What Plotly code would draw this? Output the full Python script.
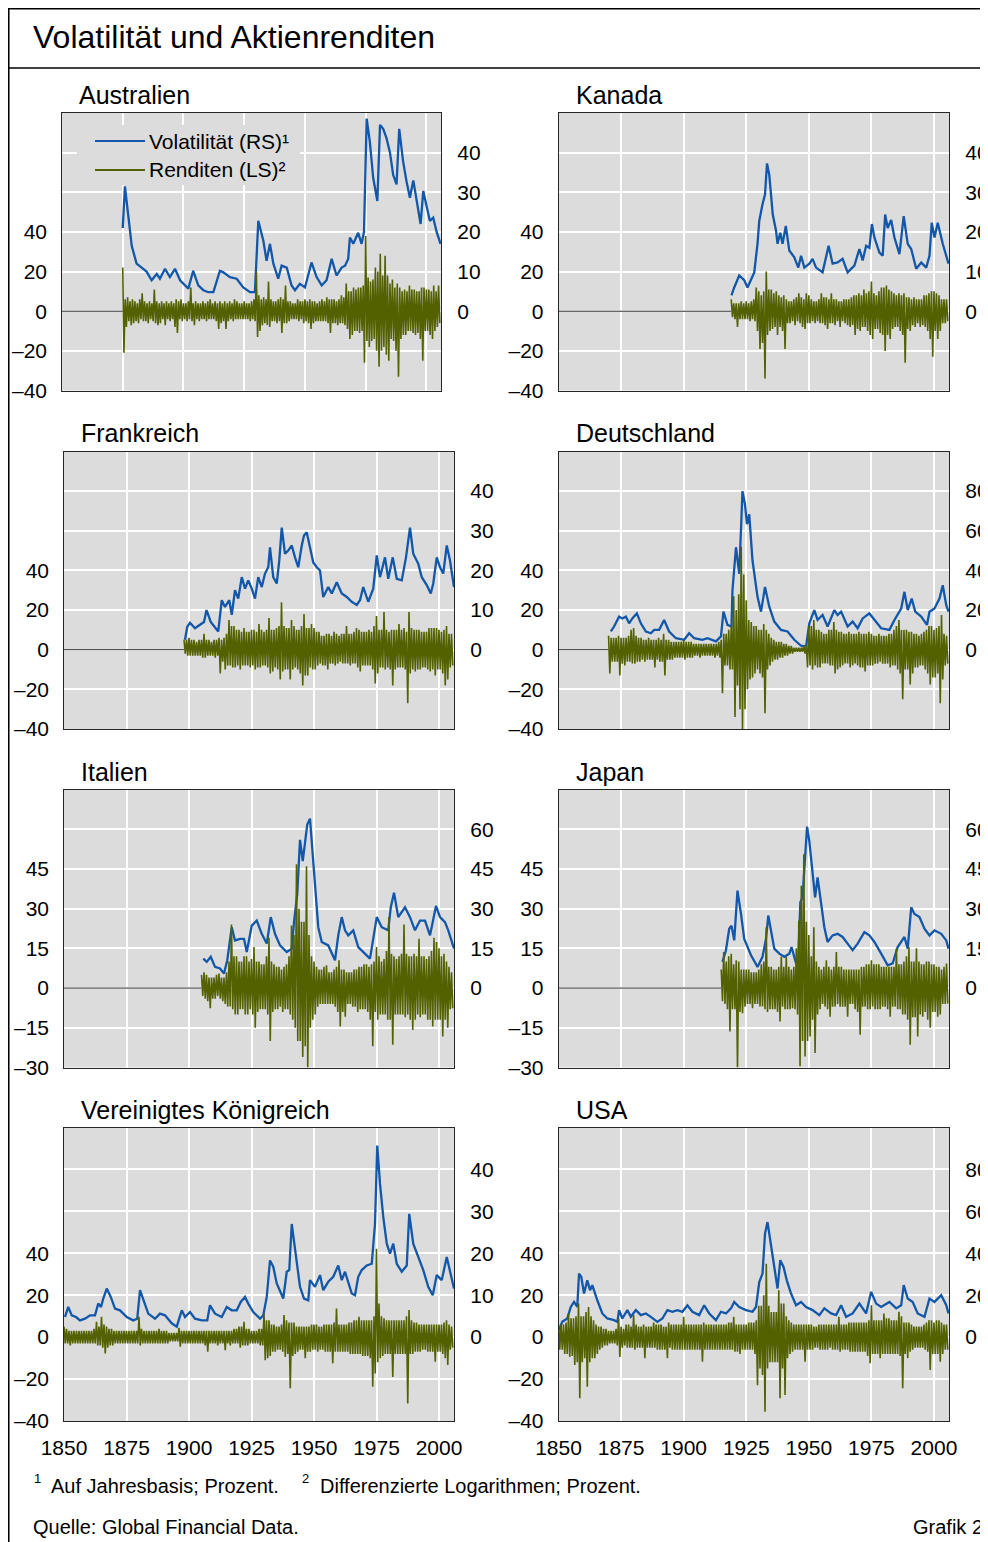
import plotly.graph_objects as go

# page body has an 8px default margin -> figure origin sits at page (8, 8)
W, H = 980, 1534
FONT = "Liberation Sans, Arial, Helvetica, sans-serif"
BLUE = "#1257a9"
GREEN = "#536100"
PLOT_BG = "#dcdcdc"
X_MIN, X_MAX = 1850, 2006
X_TICKS = [1850, 1875, 1900, 1925, 1950, 1975, 2000]

# ---------------- data: volatility (year, value) ----------------
AUS_VOL = [(1875.0, 21), (1875.9, 31.5), (1878.7, 16.5), (1880.7, 12), (1882.8, 11), (1884.8, 10), (1886.9, 7.8),
           (1889.0, 9.4), (1890.3, 8.2), (1892.4, 10.7), (1894.4, 8.6), (1896.5, 10.7), (1898.6, 7.8), (1900.6, 6.5),
           (1902.0, 5.7), (1904.0, 10.2), (1906.1, 6.5), (1908.2, 5.3), (1910.2, 4.8), (1912.3, 4.8), (1915.0, 10.2),
           (1916.4, 9.8), (1919.1, 8.6), (1921.9, 8.2), (1924.6, 6), (1927.4, 4.8), (1929.4, 4.8), (1930.8, 22.8),
           (1932.9, 17.7), (1934.2, 12.7), (1935.6, 17), (1937.0, 12), (1939.0, 8.2), (1940.4, 11.5), (1942.5, 11),
           (1944.5, 6.5), (1945.9, 5.3), (1947.9, 6.9), (1950.0, 6), (1952.7, 12.3), (1954.8, 8.6), (1956.9, 6.5),
           (1958.9, 7.8), (1961.0, 13.2), (1963.0, 9), (1965.1, 11), (1966.5, 11.5), (1967.8, 13.2), (1968.5, 18.6),
           (1969.9, 17), (1971.9, 19.8), (1973.3, 17), (1974.3, 20), (1975.4, 48.6), (1976.7, 42.8), (1978.1, 33.6),
           (1979.8, 27.8), (1980.9, 47), (1982.2, 46), (1983.6, 43.6), (1985.0, 40), (1986.3, 34.4), (1987.7, 32),
           (1988.8, 46), (1990.4, 37.8), (1991.8, 32.8), (1993.2, 28.6), (1994.6, 33), (1996.0, 27.8), (1997.6, 22),
           (1998.7, 30.3), (2000.1, 26), (2001.4, 22.8), (2002.8, 23.6), (2004.2, 20), (2005.8, 17)]

CAN_VOL = [(1919.1, 4), (1920.2, 6), (1922.2, 9), (1924.2, 7.8), (1925.5, 6), (1926.9, 8.2), (1928.2, 9.8),
           (1929.5, 17), (1930.2, 22.8), (1931.5, 27), (1932.5, 29.4), (1933.3, 37.3), (1934.2, 34.4), (1935.6, 24.4),
           (1936.9, 20.3), (1937.5, 17), (1938.6, 19.8), (1939.5, 17), (1940.8, 21.5), (1942.2, 15.3), (1944.2, 13.6),
           (1945.8, 11), (1946.9, 14), (1948.2, 11), (1950.2, 12), (1951.5, 13.2), (1952.9, 11), (1955.5, 9.8),
           (1957.9, 16.5), (1959.5, 12), (1961.5, 12.3), (1963.5, 13.2), (1965.5, 9.8), (1968.2, 11.5), (1970.2, 15.7),
           (1971.5, 12.8), (1972.9, 16.5), (1974.2, 16), (1975.2, 22), (1976.2, 18.6), (1978.2, 14.8), (1979.5, 14),
           (1980.5, 24.4), (1981.5, 21), (1982.9, 23), (1984.2, 18.6), (1986.2, 14.4), (1987.9, 24), (1989.5, 17),
           (1990.9, 15.7), (1992.9, 10.7), (1994.9, 12.3), (1996.9, 11), (1998.2, 14), (1999.1, 22.3), (2000.2, 18.6),
           (2001.5, 22.3), (2003.5, 17), (2005.8, 12)]

FRA_VOL = [(1898.4, 2.5), (1899.3, 5.8), (1900.4, 6.8), (1902.4, 5.4), (1904.4, 6.3), (1906.0, 7), (1907.0, 10),
           (1908.7, 7), (1911.7, 4.6), (1913.1, 12.5), (1914.4, 10.8), (1916.1, 12.5), (1917.1, 8.8), (1918.4, 15),
           (1919.7, 12.9), (1921.1, 18.3), (1922.4, 15.4), (1923.7, 17.5), (1925.1, 15.4), (1926.4, 12.9),
           (1927.7, 18.3), (1929.1, 15.8), (1930.4, 19.2), (1931.7, 20.8), (1932.4, 25.8), (1933.7, 18.3),
           (1935.1, 16.7), (1936.1, 22.5), (1937.1, 30.8), (1938.4, 24.2), (1939.7, 25), (1941.1, 26.3), (1942.4, 23.3),
           (1943.7, 20.8), (1945.1, 26.3), (1946.0, 28.8), (1947.1, 29.6), (1948.4, 25.8), (1949.7, 22), (1951.1, 20.8),
           (1952.4, 20), (1953.7, 13.3), (1955.7, 15.8), (1957.1, 14.2), (1959.1, 17), (1961.1, 14.2), (1963.1, 13.3),
           (1965.1, 12.1), (1967.1, 11.3), (1968.4, 12.5), (1969.7, 15.8), (1971.7, 12.1), (1973.7, 15.4),
           (1975.1, 23.8), (1976.4, 18.3), (1978.4, 23.3), (1979.7, 17.9), (1981.5, 23.3), (1983.1, 17.9),
           (1985.1, 17.5), (1986.8, 23.3), (1988.4, 30.8), (1989.7, 24.2), (1991.7, 21.7), (1993.1, 18.3),
           (1995.1, 16.3), (1996.7, 14.2), (1997.7, 16.7), (1999.1, 23.3), (2000.4, 20.8), (2001.7, 19.2),
           (2003.1, 26.3), (2004.4, 22.5), (2006.0, 15.8)]

DEU_VOL = [(1870.9, 9.2), (1872.2, 11.7), (1874.2, 16.7), (1875.5, 15.8), (1876.9, 16.7), (1878.2, 13.3),
           (1879.5, 15.8), (1881.3, 18.3), (1882.9, 13.3), (1884.9, 9.2), (1886.9, 8.3), (1888.2, 10), (1890.2, 10),
           (1892.2, 15), (1894.2, 9.2), (1896.9, 5.8), (1900.2, 5), (1902.2, 8.3), (1904.2, 5.8), (1907.5, 5),
           (1909.5, 5.8), (1912.9, 4.2), (1914.9, 6.7), (1915.9, 19.2), (1917.5, 12.5), (1919.1, 11.7), (1919.5, 30),
           (1920.9, 51.7), (1922.2, 38.3), (1923.5, 80), (1924.5, 73.3), (1925.3, 63.3), (1926.2, 68.3), (1927.5, 45),
           (1929.5, 26.7), (1930.9, 19.2), (1932.5, 31.7), (1934.2, 21.7), (1936.2, 14.2), (1938.9, 10), (1941.5, 9.2),
           (1944.2, 5), (1946.9, 2), (1948.9, 1.7), (1950.2, 13.3), (1952.2, 20), (1953.5, 15), (1955.5, 17.5),
           (1957.5, 11.7), (1960.2, 20), (1961.5, 17.5), (1962.9, 19.2), (1965.5, 11.7), (1967.5, 14.2),
           (1969.5, 10.8), (1971.5, 15.8), (1974.2, 18.3), (1976.2, 15), (1978.9, 10.8), (1982.2, 10), (1984.2, 15),
           (1986.9, 20.8), (1988.2, 29.2), (1989.5, 20), (1991.1, 25.8), (1992.5, 19.2), (1994.9, 16.7),
           (1997.2, 12.5), (1998.2, 19.2), (2000.2, 20.8), (2002.2, 25.8), (2003.5, 32.5), (2004.9, 22.5),
           (2005.8, 19.2)]

ITA_VOL = [(1905.7, 11.1), (1907.1, 9.9), (1908.7, 11.8), (1910.4, 8), (1912.4, 7.4), (1914.0, 5.5), (1915.3, 10.5),
           (1917.1, 23), (1918.4, 18), (1920.4, 18.6), (1922.0, 18.6), (1923.1, 13.6), (1925.1, 23.6), (1927.1, 25.5),
           (1929.1, 20.5), (1931.1, 16.8), (1932.7, 26.8), (1934.4, 20.5), (1936.4, 16.1), (1939.1, 13.6),
           (1941.1, 14.9), (1942.0, 24.9), (1943.3, 35.5), (1944.4, 56), (1945.5, 48), (1946.4, 54), (1947.3, 61.8),
           (1948.4, 64), (1949.1, 55.5), (1950.4, 38), (1951.7, 23), (1953.1, 17.4), (1955.7, 16.1), (1958.4, 10.5),
           (1959.7, 19.9), (1961.1, 26.8), (1962.4, 21.8), (1963.7, 19.9), (1965.7, 21.8), (1967.7, 15.5),
           (1969.7, 13.6), (1972.4, 11.1), (1975.1, 26.8), (1977.1, 23), (1979.7, 21.8), (1980.7, 30.5), (1982.0, 36),
           (1983.7, 26.8), (1986.4, 30.5), (1988.4, 26.8), (1990.4, 21.8), (1992.4, 25.5), (1994.4, 25.5),
           (1996.4, 19.9), (1998.8, 31), (2000.4, 26.8), (2002.4, 24.9), (2003.7, 21.8), (2006.0, 14.9)]

JPN_VOL = [(1915.5, 9.9), (1916.9, 14.3), (1918.2, 22.4), (1919.1, 23.6), (1920.2, 18), (1921.5, 36.8), (1922.9, 28),
           (1924.2, 18.6), (1926.9, 12.4), (1929.5, 8), (1931.5, 11.8), (1932.9, 18.6), (1933.8, 27.4), (1934.9, 21.8),
           (1936.2, 14.9), (1938.2, 13), (1940.2, 11.8), (1942.2, 13), (1943.1, 15.5), (1944.9, 9.3), (1945.8, 10.5),
           (1946.6, 32.4), (1947.5, 34.3), (1948.5, 49.3), (1949.3, 61), (1950.2, 55.5), (1951.5, 44.3),
           (1952.5, 34.3), (1953.5, 41.8), (1954.9, 33), (1956.2, 23), (1957.5, 17.4), (1959.5, 19.9), (1961.5, 20.5),
           (1963.5, 19.3), (1965.5, 16.8), (1967.5, 14.3), (1969.5, 16.8), (1972.2, 21.1), (1974.2, 19.9),
           (1976.2, 17.4), (1978.9, 13), (1981.5, 8.6), (1983.5, 9.3), (1985.5, 15.5), (1988.2, 19.3), (1989.5, 14.9),
           (1990.9, 30.5), (1992.2, 28), (1994.2, 26.8), (1996.2, 22.4), (1998.2, 19.9), (2000.2, 21.8),
           (2002.9, 20.5), (2004.9, 18), (2005.8, 14.9)]

GBR_VOL = [(1850.4, 4.8), (1851.7, 7.2), (1853.1, 5.2), (1854.8, 4.8), (1856.4, 4), (1858.4, 4.4), (1860.4, 5.2),
           (1862.4, 5.2), (1863.7, 8), (1864.8, 7.2), (1865.7, 9.2), (1867.1, 11.6), (1868.7, 9.6), (1870.4, 6.8),
           (1872.4, 6.4), (1875.1, 4.8), (1877.7, 4), (1879.3, 4.4), (1880.4, 11.2), (1881.7, 8.8), (1883.7, 5.6),
           (1886.4, 4.4), (1888.4, 5.6), (1890.4, 5.2), (1893.1, 3.3), (1895.1, 2.5), (1897.1, 6.4), (1898.4, 4.8),
           (1900.4, 6), (1902.4, 4.4), (1905.1, 4), (1907.3, 4), (1908.4, 7.6), (1910.4, 5.6), (1913.1, 4.8),
           (1915.1, 7.2), (1917.1, 6.4), (1919.1, 6.4), (1920.7, 8.4), (1922.4, 9.6), (1923.7, 8), (1925.7, 6),
           (1928.4, 4.4), (1929.7, 5.2), (1931.1, 9.6), (1932.4, 18.3), (1933.7, 16.8), (1935.1, 12.8), (1936.4, 10.8),
           (1937.7, 9.2), (1939.1, 15.6), (1940.1, 16), (1941.1, 27), (1942.4, 21.5), (1944.4, 12), (1946.0, 9.2),
           (1947.7, 8.8), (1948.4, 13.6), (1950.4, 12), (1952.4, 14.8), (1953.7, 11.2), (1955.7, 13.2), (1957.7, 14.4),
           (1959.7, 17.1), (1961.1, 13.6), (1962.4, 15.6), (1963.7, 13.2), (1965.1, 10.4), (1966.4, 10), (1967.7, 14.4),
           (1969.1, 16), (1971.1, 17.1), (1973.1, 17.5), (1974.4, 27), (1975.3, 45.7), (1976.4, 36.6), (1977.7, 28.7),
           (1979.1, 22.3), (1980.4, 19.9), (1981.7, 22.3), (1983.1, 17.5), (1985.1, 15.6), (1987.1, 17.1),
           (1988.1, 29.4), (1989.7, 22.3), (1991.7, 19.1), (1993.7, 16), (1995.7, 12), (1997.5, 10), (1999.1, 14.8),
           (2001.1, 13.6), (2003.1, 19.1), (2004.4, 16), (2006.0, 11.6)]

USA_VOL = [(1850.2, 3.3), (1851.5, 7.3), (1853.5, 8.9), (1854.9, 14.4), (1856.2, 16.8), (1857.5, 14.4), (1858.2, 30.3),
           (1859.1, 28.7), (1860.2, 20.8), (1861.5, 27.1), (1862.6, 22.4), (1863.5, 24.8), (1865.5, 17.6),
           (1867.5, 11.3), (1869.5, 8.9), (1872.2, 8.1), (1873.5, 7.3), (1874.2, 12.9), (1875.5, 8.9), (1877.5, 12.9),
           (1878.9, 9.7), (1880.9, 12.9), (1882.9, 10.5), (1884.9, 11.3), (1886.9, 9.7), (1889.5, 7.3), (1891.5, 8.9),
           (1893.5, 12.9), (1895.5, 12.1), (1897.5, 12.9), (1899.5, 12.1), (1901.5, 15.2), (1903.5, 12.1),
           (1906.2, 10.5), (1908.2, 15.2), (1910.2, 11.3), (1912.9, 8.1), (1914.9, 12.1), (1916.9, 11.3),
           (1918.9, 13.7), (1920.2, 16.8), (1922.2, 14.4), (1924.9, 12.9), (1927.5, 12.1), (1928.9, 14.4),
           (1930.2, 26.3), (1931.5, 30.3), (1932.5, 49.4), (1933.5, 54.9), (1934.6, 46.2), (1936.2, 31.9),
           (1937.5, 23.2), (1938.6, 36.7), (1939.9, 33.5), (1941.2, 27.1), (1942.9, 20.8), (1944.9, 15.2),
           (1946.9, 16.8), (1948.9, 14.4), (1951.5, 12.9), (1954.2, 10.5), (1956.2, 13.7), (1958.9, 11.3),
           (1960.9, 10.5), (1962.9, 15.2), (1964.9, 9.7), (1967.5, 11.3), (1970.2, 16), (1972.9, 11.3), (1974.9, 21.6),
           (1976.9, 16), (1978.9, 14.4), (1982.2, 16.8), (1984.9, 13.7), (1986.9, 15.2), (1987.9, 24.8), (1989.5, 18.4),
           (1991.5, 16.8), (1993.5, 11.3), (1996.2, 9.7), (1998.2, 18.4), (2000.2, 16.8), (2002.9, 20), (2004.9, 15.2),
           (2005.8, 11.3)]

# ---------------- data: yearly return range (high, low), consecutive years from *_START ----------------
AUS_START = 1875
AUS_RET = [(22, -21), (6, -8), (7, -5), (5, -7), (6, -6),
           (5, -5), (4, -6), (6, -4), (9, -5), (5, -5), (4, -6), (5, -4), (4, -5), (11, -6), (5, -7),
           (4, -6), (5, -4), (4, -7), (5, -4), (4, -5), (5, -4), (4, -8), (6, -11), (5, -4), (6, -5),
           (4, -4), (4, -5), (5, -4), (12, -5), (4, -7), (5, -4), (4, -5), (4, -4), (5, -4), (4, -5),
           (5, -4), (6, -4), (4, -4), (5, -5), (4, -9), (5, -6), (4, -5), (5, -9), (4, -5), (5, -4),
           (4, -5), (6, -4), (5, -4), (4, -4), (4, -4), (5, -4), (4, -4), (4, -5), (5, -4), (6, -5),
           (20, -13), (8, -10), (6, -7), (7, -6), (6, -7), (15, -8), (6, -5), (5, -5), (5, -6), (6, -5),
           (7, -11), (6, -6), (13, -6), (5, -5), (5, -4), (4, -4), (4, -4), (6, -5), (5, -4), (5, -6),
           (6, -5), (5, -6), (6, -9), (5, -6), (5, -5), (4, -5), (5, -5), (6, -5), (5, -5), (7, -6),
           (6, -11), (6, -6), (6, -6), (5, -7), (6, -6), (8, -6), (7, -7), (14, -9), (10, -14), (10, -12),
           (12, -10), (11, -10), (12, -11), (12, -10), (13, -26), (38, -15), (17, -18), (15, -15), (16, -14), (22, -20),
           (20, -28), (29, -20), (18, -18), (28, -22), (18, -25), (14, -14), (16, -15), (12, -20), (14, -33), (12, -14),
           (10, -12), (11, -12), (10, -10), (13, -10), (11, -11), (11, -12), (10, -11), (10, -14), (12, -25), (12, -10),
           (11, -10), (11, -12), (10, -14), (13, -10), (10, -8), (13, -6)]

CAN_START = 1919
CAN_RET = [(6, -3),
           (4, -4), (4, -8), (4, -4), (5, -4), (4, -4), (5, -4), (4, -5), (5, -4), (6, -5), (12, -10),
           (10, -19), (8, -16), (10, -34), (20, -12), (11, -10), (11, -9), (9, -8), (10, -12), (8, -8), (7, -10),
           (8, -19), (6, -6), (5, -6), (5, -5), (6, -7), (7, -5), (9, -6), (7, -8), (6, -9), (9, -6),
           (8, -6), (6, -5), (5, -6), (5, -5), (6, -6), (9, -6), (7, -7), (7, -9), (6, -6), (9, -6),
           (6, -7), (6, -5), (5, -8), (5, -5), (6, -6), (6, -7), (6, -8), (7, -7), (8, -12), (8, -9),
           (9, -10), (8, -8), (11, -8), (9, -10), (10, -12), (15, -14), (9, -9), (8, -9), (10, -11), (12, -12),
           (12, -20), (13, -12), (11, -14), (10, -9), (9, -8), (8, -8), (9, -10), (8, -12), (9, -26), (7, -9),
           (7, -10), (6, -7), (7, -8), (6, -6), (6, -8), (6, -7), (8, -8), (8, -10), (9, -14), (10, -23),
           (10, -10), (9, -14), (8, -10), (6, -6), (6, -6), (6, -5)]

FRA_START = 1898
FRA_RET = [(5, -2), (5, -3),
           (6, -3), (5, -3), (5, -3), (4, -3), (5, -3), (5, -4), (8, -4), (5, -3), (5, -3), (4, -3),
           (5, -4), (5, -3), (6, -12), (5, -6), (6, -10), (8, -8), (15, -8), (12, -9), (12, -9), (10, -8),
           (10, -10), (9, -8), (11, -8), (9, -8), (9, -9), (10, -8), (10, -10), (9, -9), (13, -9), (10, -8),
           (9, -8), (10, -9), (16, -12), (10, -11), (10, -9), (11, -10), (12, -15), (24, -11), (12, -10), (11, -10),
           (11, -15), (15, -10), (12, -9), (10, -10), (10, -12), (12, -18), (18, -13), (11, -13), (11, -9), (13, -10),
           (11, -10), (9, -8), (9, -7), (7, -8), (7, -8), (8, -10), (8, -7), (7, -7), (9, -8), (8, -7),
           (7, -6), (8, -7), (8, -7), (12, -7), (8, -8), (8, -7), (9, -7), (11, -9), (10, -11), (9, -8),
           (9, -8), (9, -8), (10, -8), (9, -10), (12, -17), (17, -12), (10, -9), (10, -9), (19, -10), (10, -9),
           (9, -10), (10, -18), (10, -10), (10, -9), (13, -9), (10, -9), (11, -10), (9, -27), (19, -12), (11, -10),
           (10, -11), (10, -10), (10, -10), (9, -9), (9, -9), (9, -10), (11, -11), (11, -10), (11, -13), (11, -10),
           (10, -10), (9, -12), (10, -18), (12, -15), (8, -9), (8, -8)]

DEU_START = 1870
DEU_RET = [(7, -12), (6, -6), (6, -6), (6, -6), (7, -13), (6, -7), (6, -8), (6, -6), (7, -6), (10, -7),
           (11, -7), (7, -6), (6, -6), (6, -5), (5, -6), (5, -5), (6, -5), (5, -5), (5, -9), (5, -5),
           (6, -6), (5, -6), (8, -13), (5, -5), (5, -5), (4, -5), (4, -4), (4, -4), (4, -4), (4, -4),
           (5, -5), (4, -4), (4, -4), (4, -4), (3, -3), (3, -3), (3, -4), (3, -3), (3, -3), (3, -3),
           (3, -3), (3, -3), (3, -4), (3, -3), (4, -4), (5, -22), (8, -8), (8, -8), (10, -10), (12, -10),
           (27, -34), (20, -18), (28, -30), (52, -40), (38, -30), (25, -20), (15, -15), (14, -14), (12, -12), (12, -10),
           (10, -12), (10, -14), (13, -32), (10, -10), (8, -8), (6, -6), (5, -5), (4, -5), (4, -4), (4, -4),
           (3, -3), (3, -3), (2, -2), (2, -2), (1, -1), (1, -1), (1, -1), (1, -1), (2, -2), (2, -9),
           (12, -8), (12, -10), (15, -8), (10, -9), (10, -9), (9, -7), (8, -7), (8, -7), (10, -8), (10, -8),
           (14, -12), (10, -10), (9, -9), (9, -8), (8, -7), (8, -7), (9, -9), (8, -8), (8, -7), (8, -8),
           (9, -9), (8, -9), (8, -11), (8, -8), (9, -8), (8, -8), (7, -7), (7, -7), (8, -6), (7, -7),
           (7, -7), (7, -7), (8, -9), (8, -8), (10, -8), (12, -10), (15, -12), (10, -25), (10, -10), (10, -10),
           (9, -17.5), (9, -12), (8, -9), (8, -9), (7, -8), (8, -8), (9, -10), (10, -12), (12, -17.5), (12, -14),
           (10, -14), (11, -12), (12, -27), (17.5, -15), (8, -8), (7, -7)]

ITA_START = 1905
ITA_RET = [(5, -3), (6, -4), (5, -5), (4, -7.6), (4, -4),
           (4, -4), (5, -3), (5.5, -4), (4, -5), (4, -6), (6, -7), (10, -7), (24, -8), (12, -10), (12, -10),
           (10, -8), (10, -8), (12, -10), (12, -10), (10, -8), (11, -10), (15.5, -15), (10, -9), (10, -8), (9, -8),
           (9, -8), (12, -10), (19, -20), (10, -9), (9, -8), (8, -8), (8, -7), (7, -9), (8, -8), (9, -8),
           (12, -10), (23.6, -12), (20, -15), (46.8, -20), (30, -20), (25, -26), (25, -22), (46, -30), (20, -15), (12, -12),
           (10, -10), (8, -7), (7, -6), (7, -6), (8, -6), (8.6, -6), (6, -6), (6, -6), (7, -7), (8, -9),
           (10.5, -14.5), (7, -9), (7, -10.8), (6, -6), (6, -6), (6, -7), (7, -7), (7, -9), (8, -8), (8, -8),
           (9, -8), (9, -9), (8, -12), (9, -22), (10, -9), (15.5, -12), (12, -10), (10, -10), (11, -10), (14, -12),
           (26.8, -12), (13, -21.4), (12, -10), (11, -10), (12, -10), (13, -10), (24, -11), (13, -10), (12, -12), (12, -15.8),
           (13, -12), (12, -10), (18.6, -11), (12, -10), (12, -10), (11, -12), (12, -12), (14, -14.5), (19, -12), (17.4, -12),
           (15, -12), (12, -18.3), (13, -12), (10, -15), (8, -8), (6, -7.6)]

JPN_START = 1915
JPN_RET = [(7, -5), (13.6, -6), (10, -8), (12, -16.4), (13, -8),
           (9, -8), (10.5, -30), (10, -9), (7, -9.5), (7, -7), (7, -6), (7, -6), (6, -7.6), (6, -6), (6, -6),
           (7, -7), (9, -7), (10, -8), (23, -9), (8, -8), (8, -8), (7, -8), (7, -9), (8, -12.6), (11.8, -7),
           (8, -8), (11.8, -8), (8, -8), (7, -7.6), (8, -8), (15, -10), (25.5, -29.5), (38.6, -20), (50.5, -25.8), (25, -20),
           (20, -18.3), (12, -12), (23, -24.5), (10, -10), (8, -8), (7, -6), (8, -7), (10.5, -8), (8, -10.8), (7, -7),
           (8, -7), (13.6, -6), (8, -7), (8, -7), (7, -7), (7, -10.8), (7, -6), (7, -6), (7, -8), (7, -9),
           (7, -17.6), (8, -7), (8, -7), (9, -8), (9, -8), (10.5, -7), (9, -8), (9, -8), (9, -8), (8, -7),
           (8, -7), (8, -8), (8, -10.8), (8, -7), (8, -7), (15, -8), (9, -8), (9, -10), (10, -10), (12, -12),
           (15.5, -21.4), (10, -11), (10, -11), (15, -18.3), (10, -10), (9, -10.8), (9, -9), (10, -12), (10, -15), (9, -9),
           (9, -9), (8, -10.8), (8, -10), (7, -6), (8, -6), (9.3, -5.8)]

GBR_START = 1850
GBR_RET = [(5, -3), (4, -3), (3, -4), (3, -3), (3, -3), (3, -3), (3, -3), (3, -3), (3, -3), (3, -3),
           (3, -3), (3, -3), (4, -3), (7.3, -4), (5, -4), (9.7, -5), (6, -7.8), (5, -5), (4, -4), (4, -4),
           (3, -3), (3, -3), (3, -3), (3, -3), (3, -3), (3, -3), (3, -3), (3, -3), (3, -3), (3, -3),
           (9.7, -4), (4, -3), (3, -3), (3, -3), (3, -3), (3, -3), (3, -3), (3, -3), (4, -3), (3, -3),
           (3, -3), (3, -3), (2, -2), (2, -2), (2, -2), (2, -2), (4.5, -4.6), (3, -3), (3, -3), (3, -3),
           (3, -3), (3, -3), (3, -3), (3, -3), (3, -3), (3, -3), (3, -4), (3, -7), (3, -3), (3, -3),
           (3, -3), (3, -4), (3, -3), (3, -3), (3, -6.2), (3, -3), (3, -4), (3, -3), (4, -3), (4, -3),
           (5, -5), (5, -4), (7.3, -4), (4, -4), (4, -3), (3, -3), (3, -3), (3, -3), (4, -4), (4, -4),
           (11.3, -11), (8, -10), (8, -9), (6, -7), (6, -7), (5, -6), (5, -6), (6, -7), (10.5, -9.4), (8, -8),
           (7, -24.4), (7, -9), (7, -8), (5, -7), (5, -6), (5, -6), (5, -10), (5, -7), (5, -7), (6, -6),
           (6, -6), (6, -7), (5, -6), (5, -6), (6, -7), (6, -7), (6, -7), (6, -12.5), (7, -7), (13.7, -7),
           (6, -7), (6, -7), (6, -7), (6, -7), (7, -8), (7, -8), (8, -8), (8, -8), (9.7, -8), (8, -9),
           (8, -9), (8, -9), (8, -10), (8, -23.7), (10, -17.3), (42.2, -12), (16, -10), (10, -9), (9, -8), (8, -8),
           (8, -8), (8, -19), (8, -8), (8, -8), (8, -8), (8, -8), (8, -8), (10, -31.6), (12.9, -8), (8, -8),
           (7, -7), (7, -7), (6, -7), (6, -6), (6, -6), (6, -7), (6, -7), (6, -7), (6, -11.7), (6, -7),
           (6, -7), (6, -8), (7, -10), (8.1, -13.3), (6, -6), (5, -5)]

USA_START = 1850
USA_RET = [(6, -6), (6, -6), (6, -8), (7, -8), (11.3, -9.4), (9, -9), (9, -13.3), (10, -12), (16, -29.2), (10, -12),
           (10, -10), (12, -23.7), (14.4, -12), (10, -10), (8, -10), (6, -8), (5, -6), (5, -5), (4, -4), (4, -4),
           (3, -3), (3, -3), (3, -3), (4, -4), (8.9, -9.4), (5, -5), (4, -4), (6, -5), (6, -5), (5, -5),
           (10.5, -6), (6, -5), (5, -5), (5, -5), (6, -10), (5, -5), (5, -5), (5, -5), (7, -5), (6, -6),
           (6, -6), (6, -6), (5, -6), (5, -10), (7, -5), (6, -6), (6, -6), (6, -6), (6, -6), (6, -6),
           (9.7, -6), (6, -6), (6, -6), (6, -6), (6, -6), (6, -6), (6, -6), (6, -11.7), (7, -6), (6, -6),
           (6, -6), (6, -6), (6, -6), (6, -6), (6, -6), (6, -6), (6, -6), (6, -6), (7, -6), (7, -6),
           (9.7, -7), (6, -7), (6, -8), (6, -6), (6, -6), (6, -6), (7, -6), (7, -6), (7, -8), (8, -22.9),
           (15, -15), (15, -18), (20, -35.6), (35, -15), (15, -12), (12, -12), (12, -12), (12, -12), (22.4, -29.2), (16, -15),
           (16, -27.6), (10, -10), (8, -8), (7, -7), (6, -6), (6, -6), (6, -6), (6, -6), (6, -11.7), (6, -6),
           (6, -6), (6, -6), (5, -5), (5, -5), (6, -6), (6, -6), (6, -6), (6, -6), (6, -5), (6, -6),
           (6, -6), (6, -6), (9.7, -7), (6, -6), (6, -6), (6, -6), (7, -7), (7, -7), (7, -7), (7, -7),
           (7, -7), (7, -7), (7, -7), (7, -9), (8, -12.5), (15.2, -8), (8, -8), (8, -8), (8, -10), (8, -8),
           (11.3, -8), (9, -8), (9, -8), (8, -8), (8, -8), (8, -8), (12.1, -9), (10, -24.4), (7, -8), (7, -10),
           (7, -7), (6, -6), (5, -5), (5, -5), (5, -5), (5, -5), (6, -6), (7, -7), (8, -15.7), (8, -8),
           (7, -8), (8, -8), (8, -11.7), (7, -8), (6, -6), (6, -6)]

# ---------------- text ----------------
TITLE = "Volatilität und Aktienrenditen"
LEGEND_VOL = "Volatilität (RS)¹"
LEGEND_RET = "Renditen (LS)²"
FOOT_1 = "Auf Jahresbasis; Prozent."
FOOT_2 = "Differenzierte Logarithmen; Prozent."
SOURCE = "Quelle: Global Financial Data."
CHART_NO = "Grafik 2"

# axis scale sets: (min, max, step, first labelled, last labelled)
L_A = (-40, 100, 20, -40, 40)
R_A = (-20, 50, 10, 0, 40)
R_B = (-40, 100, 20, 0, 80)
L_C = (-30, 75, 15, -30, 45)
R_C = (-30, 75, 15, 0, 60)

# layout boxes in figure pixels (left, right, top, bottom)
PANELS = [
    dict(name="Australien", vol=AUS_VOL, start=AUS_START, ret=AUS_RET, box=(54, 433, 105, 382.5), left=L_A, right=R_A, bottom=False),
    dict(name="Kanada", vol=CAN_VOL, start=CAN_START, ret=CAN_RET, box=(550.5, 941, 105, 382.5), left=L_A, right=R_A, bottom=False),
    dict(name="Frankreich", vol=FRA_VOL, start=FRA_START, ret=FRA_RET, box=(56, 446, 443.5, 721), left=L_A, right=R_A, bottom=False),
    dict(name="Deutschland", vol=DEU_VOL, start=DEU_START, ret=DEU_RET, box=(550.5, 941, 443.5, 721), left=L_A, right=R_B, bottom=False),
    dict(name="Italien", vol=ITA_VOL, start=ITA_START, ret=ITA_RET, box=(56, 446, 781.5, 1059.5), left=L_C, right=R_C, bottom=False),
    dict(name="Japan", vol=JPN_VOL, start=JPN_START, ret=JPN_RET, box=(550.5, 941, 781.5, 1059.5), left=L_C, right=R_C, bottom=False),
    dict(name="Vereinigtes Königreich", vol=GBR_VOL, start=GBR_START, ret=GBR_RET, box=(56, 446, 1119.5, 1413), left=L_A, right=R_A, bottom=True),
    dict(name="USA", vol=USA_VOL, start=USA_START, ret=USA_RET, box=(550.5, 941, 1119.5, 1413), left=L_A, right=R_B, bottom=True),
]


def px_x(p):
    return p / W


def px_y(p):
    return 1 - p / H


def tick_set(spec):
    lo, hi, step, lab_lo, lab_hi = spec
    vals = list(range(lo, hi, step))
    text = [str(v).replace("-", "\u2013") if lab_lo <= v <= lab_hi else "" for v in vals]
    return vals, text


fig = go.Figure()
layout = dict(
    template="none",
    width=W, height=H, autosize=False,
    margin=dict(l=0, r=0, t=0, b=0, pad=0, autoexpand=False),
    paper_bgcolor="white",
    plot_bgcolor=PLOT_BG,
    showlegend=False,
    hovermode=False,
    font=dict(family=FONT, size=21, color="black"),
    annotations=[], shapes=[],
)
annotations = layout["annotations"]
shapes = layout["shapes"]

for k, p in enumerate(PANELS, start=1):
    xid = "x" if k == 1 else f"x{k}"
    yb = 2 * k - 1
    yo = 2 * k
    ybid = "y" if yb == 1 else f"y{yb}"
    yoid = f"y{yo}"
    x0, x1, t, b = p["box"]

    # volatility on base axis (right-hand scale)
    vx = [v[0] for v in p["vol"]]
    vy = [v[1] for v in p["vol"]]
    fig.add_trace(go.Scatter(x=vx, y=vy, mode="lines", line=dict(color=BLUE, width=2.3),
                             xaxis=xid, yaxis=ybid))
    # zero line before the return series begins
    fig.add_trace(go.Scatter(x=[X_MIN, p["start"]], y=[0, 0], mode="lines",
                             line=dict(color="#2a2a2a", width=1), xaxis=xid, yaxis=yoid))
    # returns: yearly high/low, drawn as a dense line (left-hand scale, on top)
    rx, ry = [], []
    for i, (hi, lo) in enumerate(p["ret"]):
        yr = p["start"] + i
        rx += [yr, yr + 0.5]
        ry += [hi, lo]
    fig.add_trace(go.Scatter(x=rx, y=ry, mode="lines", line=dict(color=GREEN, width=1.6),
                             xaxis=xid, yaxis=yoid))

    xkey = "xaxis" if k == 1 else f"xaxis{k}"
    layout[xkey] = dict(
        domain=[px_x(x0), px_x(x1)], range=[X_MIN, X_MAX], anchor=ybid, automargin=False,
        tickmode="array", tickvals=X_TICKS, ticktext=[str(v) for v in X_TICKS],
        showticklabels=p["bottom"], ticks="", ticklabelstandoff=8,
        showgrid=True, gridcolor="white", gridwidth=2,
        showline=True, linecolor="#262626", linewidth=1.2, mirror=True,
        zeroline=False, fixedrange=True, tickfont=dict(size=21),
    )
    rv, rt = tick_set(p["right"])
    ybkey = "yaxis" if yb == 1 else f"yaxis{yb}"
    layout[ybkey] = dict(
        domain=[px_y(b), px_y(t)], range=[p["right"][0], p["right"][1]], anchor=xid, side="right",
        automargin=False, tickmode="array", tickvals=rv, ticktext=rt, ticks="", ticklabelstandoff=11,
        showgrid=True, gridcolor="white", gridwidth=2,
        showline=True, linecolor="#262626", linewidth=1.2, mirror=True,
        zeroline=False, fixedrange=True, tickfont=dict(size=21),
    )
    lv, lt = tick_set(p["left"])
    layout[f"yaxis{yo}"] = dict(
        range=[p["left"][0], p["left"][1]], anchor=xid, overlaying=ybid, side="left", automargin=False,
        tickmode="array", tickvals=lv, ticktext=lt, ticks="", ticklabelstandoff=14,
        showgrid=False, showline=False, zeroline=False, fixedrange=True, tickfont=dict(size=21),
    )
    annotations.append(dict(text=p["name"], x=px_x(x0 + 15), y=px_y(t - 18), xref="paper", yref="paper",
                            xanchor="left", yanchor="middle", showarrow=False, font=dict(size=25)))

# frame
shapes += [
    dict(type="line", xref="paper", yref="paper", x0=0, x1=1, y0=px_y(0.75), y1=px_y(0.75),
         line=dict(color="black", width=1.6)),
    dict(type="line", xref="paper", yref="paper", x0=0, x1=1, y0=px_y(60), y1=px_y(60),
         line=dict(color="black", width=1.6)),
    dict(type="line", xref="paper", yref="paper", x0=px_x(0.75), x1=px_x(0.75), y0=1, y1=0,
         line=dict(color="black", width=1.6)),
]
# legend (inside first panel)
shapes += [
    dict(type="rect", xref="paper", yref="paper", x0=px_x(69), x1=px_x(292), y0=px_y(177), y1=px_y(117),
         fillcolor=PLOT_BG, line=dict(width=0), layer="above"),
    dict(type="line", xref="paper", yref="paper", x0=px_x(87), x1=px_x(137), y0=px_y(133), y1=px_y(133),
         line=dict(color=BLUE, width=2.2), layer="above"),
    dict(type="line", xref="paper", yref="paper", x0=px_x(87), x1=px_x(137), y0=px_y(162), y1=px_y(162),
         line=dict(color=GREEN, width=2.2), layer="above"),
]
annotations += [
    dict(text=LEGEND_VOL, x=px_x(139), y=px_y(133), xref="paper", yref="paper", xanchor="left",
         yanchor="middle", showarrow=False, font=dict(size=21)),
    dict(text=LEGEND_RET, x=px_x(139), y=px_y(162), xref="paper", yref="paper", xanchor="left",
         yanchor="middle", showarrow=False, font=dict(size=21)),
    dict(text=TITLE, x=px_x(23), y=px_y(29), xref="paper", yref="paper", xanchor="left", yanchor="middle",
         showarrow=False, font=dict(size=32)),
    dict(text="1", x=px_x(24), y=px_y(1470), xref="paper", yref="paper", xanchor="left", yanchor="middle",
         showarrow=False, font=dict(size=13)),
    dict(text=FOOT_1, x=px_x(41), y=px_y(1478), xref="paper", yref="paper", xanchor="left", yanchor="middle",
         showarrow=False, font=dict(size=20)),
    dict(text="2", x=px_x(292), y=px_y(1470), xref="paper", yref="paper", xanchor="left", yanchor="middle",
         showarrow=False, font=dict(size=13)),
    dict(text=FOOT_2, x=px_x(310), y=px_y(1478), xref="paper", yref="paper", xanchor="left", yanchor="middle",
         showarrow=False, font=dict(size=20)),
    dict(text=SOURCE, x=px_x(23), y=px_y(1519), xref="paper", yref="paper", xanchor="left", yanchor="middle",
         showarrow=False, font=dict(size=20)),
    dict(text=CHART_NO, x=px_x(977), y=px_y(1519), xref="paper", yref="paper", xanchor="right", yanchor="middle",
         showarrow=False, font=dict(size=20)),
]

fig.update_layout(**layout)
fig.write_html("out.html", config={"displayModeBar": False})
